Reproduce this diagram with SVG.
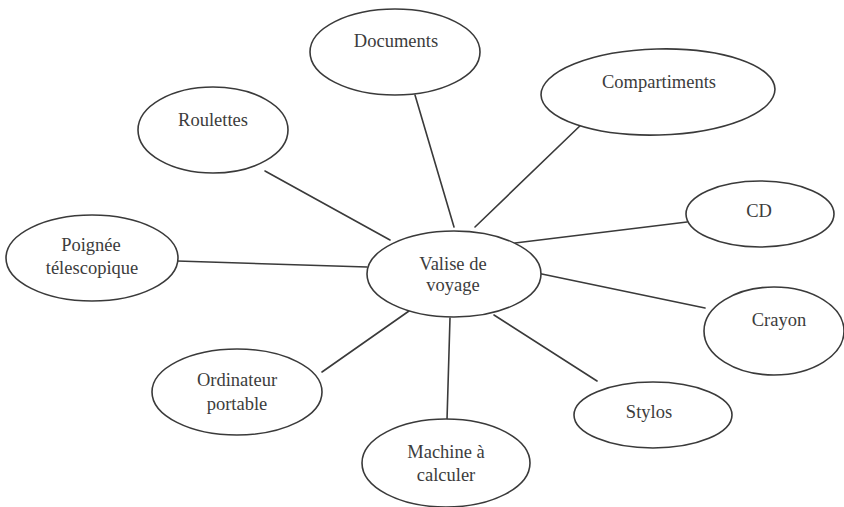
<svg xmlns="http://www.w3.org/2000/svg" width="844" height="507" viewBox="0 0 844 507">
  <style>
    .node ellipse { fill: #ffffff; stroke: #3a3a3a; stroke-width: 1.6; }
    .node text { font-size: 18.5px; fill: #3c3c3c; text-anchor: middle; }
    #connectors line { stroke: #3a3a3a; stroke-width: 1.6; stroke-linecap: round; }
  </style>
  <rect width="844" height="507" fill="#ffffff"/>

  <g id="connectors">
    <line x1="265" y1="171" x2="390" y2="240"/>
    <line x1="415" y1="95" x2="454" y2="227"/>
    <line x1="584" y1="122" x2="475" y2="227"/>
    <line x1="687" y1="222" x2="515" y2="243"/>
    <line x1="177" y1="261" x2="367" y2="267"/>
    <line x1="322" y1="372" x2="409" y2="311"/>
    <line x1="450" y1="318" x2="447" y2="420"/>
    <line x1="494" y1="315" x2="597" y2="381"/>
    <line x1="537" y1="273" x2="705" y2="308"/>
  </g>

  <g font-family="Liberation Serif, Times New Roman, serif">
  <g id="valise" class="node">
    <ellipse cx="454" cy="274" rx="87" ry="43"/>
    <text x="453" y="270">Valise de</text>
    <text x="453" y="291">voyage</text>
  </g>

  <g id="documents" class="node">
    <ellipse cx="395" cy="52" rx="85" ry="43"/>
    <text x="396" y="47">Documents</text>
  </g>

  <g id="roulettes" class="node">
    <ellipse cx="213" cy="130" rx="75" ry="43"/>
    <text x="213" y="126">Roulettes</text>
  </g>

  <g id="compartiments" class="node">
    <ellipse cx="658" cy="92" rx="117" ry="43" transform="rotate(-1.5 658 92)"/>
    <text x="659" y="88">Compartiments</text>
  </g>

  <g id="cd" class="node">
    <ellipse cx="760" cy="214" rx="74" ry="33"/>
    <text x="759" y="217">CD</text>
  </g>

  <g id="poignee" class="node">
    <ellipse cx="92" cy="258" rx="86" ry="43"/>
    <text x="91" y="251">Poignée</text>
    <text x="92" y="274">télescopique</text>
  </g>

  <g id="ordinateur" class="node">
    <ellipse cx="237" cy="392" rx="85" ry="43"/>
    <text x="237" y="386">Ordinateur</text>
    <text x="237" y="410">portable</text>
  </g>

  <g id="machine" class="node">
    <ellipse cx="446" cy="463" rx="84" ry="44"/>
    <text x="446" y="458">Machine à</text>
    <text x="446" y="481">calculer</text>
  </g>

  <g id="stylos" class="node">
    <ellipse cx="653" cy="415" rx="79" ry="33"/>
    <text x="649" y="418">Stylos</text>
  </g>

  <g id="crayon" class="node">
    <ellipse cx="774" cy="331" rx="70" ry="44"/>
    <text x="779" y="326">Crayon</text>
  </g>
  </g>
</svg>
